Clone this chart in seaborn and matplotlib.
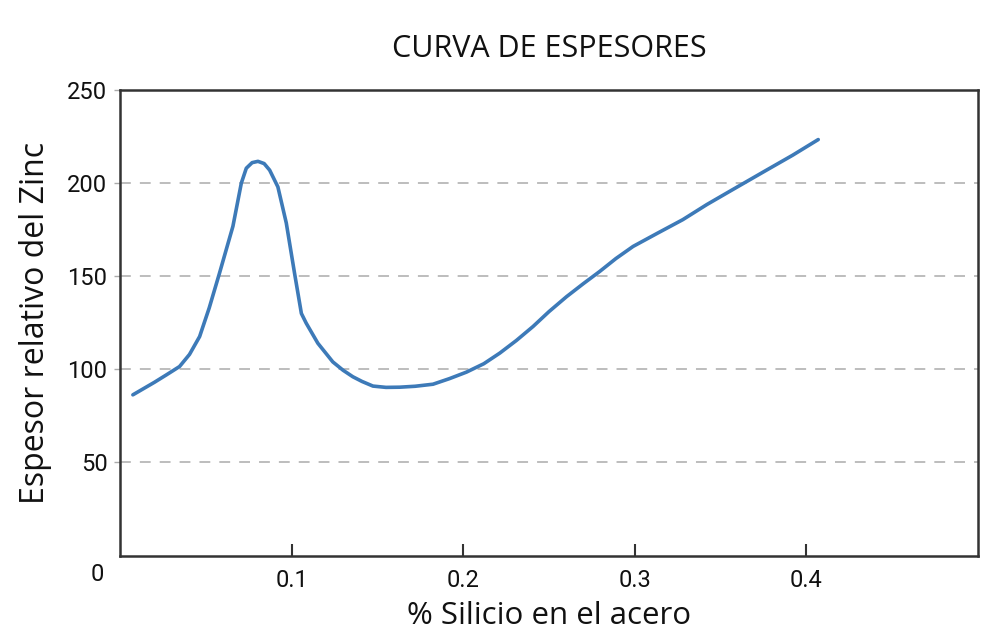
import matplotlib
matplotlib.use("Agg")
import matplotlib.pyplot as plt
import seaborn as sns
import pandas as pd

silicio = [0.0075, 0.020, 0.027, 0.0347, 0.0405, 0.0464, 0.052, 0.058, 0.0658, 0.0707, 0.0736,
           0.0770, 0.0804, 0.0840, 0.0872, 0.092, 0.0969, 0.1017, 0.1057, 0.1085,
           0.1153, 0.124, 0.130, 0.1357, 0.141, 0.1474, 0.155, 0.163, 0.172, 0.1824, 0.192,
           0.2019, 0.212, 0.2213, 0.231, 0.2407, 0.250, 0.2602, 0.270, 0.2796, 0.289,
           0.299, 0.313, 0.328, 0.342, 0.357, 0.3768, 0.392, 0.4069]
espesor = [86.3, 93.0, 97.0, 101.5, 108.0, 117.6, 133.0, 151.7, 176.8, 200.0, 208.0,
           211.0, 211.7, 210.5, 207.0, 198.0, 178.6, 151.7, 130.0, 124.8,
           114.0, 104.0, 99.5, 96.0, 93.5, 91.0, 90.3, 90.4, 90.9, 92.0, 95.0,
           98.5, 103.0, 108.7, 115.5, 123.0, 131.0, 139.0, 146.0, 152.6, 159.5,
           166.0, 173.0, 180.4, 188.5, 196.5, 207.0, 215.0, 223.4]
x_ticks = [0.1, 0.2, 0.3, 0.4]
x_tick_labels = ["0.1", "0.2", "0.3", "0.4"]
y_ticks = [50, 100, 150, 200, 250]
y_tick_labels = ["50", "100", "150", "200", "250"]

df = pd.DataFrame({"silicio": silicio, "espesor": espesor})

sns.set_theme(style="white")
plt.rcParams["font.family"] = ["Open Sans", "DejaVu Sans"]

fig = plt.figure(figsize=(10, 6.44), dpi=100)
ax = fig.add_axes([0.12, 0.1374, 0.858, 0.7228])

for y in [50, 100, 150, 200]:
    ax.axhline(y, color="#b8b8b8", lw=1.3, ls=(0, (6, 5)), zorder=0)

sns.lineplot(data=df, x="silicio", y="espesor", ax=ax, color="#3d7ab8",
             lw=2.6, sort=False, estimator=None)

ax.set_xlim(0, 0.5)
ax.set_ylim(0, 250)
ax.set_xticks(x_ticks)
ax.set_xticklabels(x_tick_labels)
ax.set_yticks(y_ticks)
ax.set_yticklabels(y_tick_labels)

cond = ["Roboto", "DejaVu Sans"]
for lab in ax.get_xticklabels() + ax.get_yticklabels():
    lab.set_family(cond)
    lab.set_fontsize(17)
    lab.set_color("#111111")
ax.tick_params(axis="x", direction="in", length=9, width=1.5, color="#333333",
               pad=10, bottom=True)
ax.tick_params(axis="y", direction="out", length=4, width=1.0, color="#aaaaaa",
               pad=5, left=True)
ax.text(-0.0135, -4, "0", ha="center", va="top",
        fontsize=17, family=cond, color="#111111")

for sp in ax.spines.values():
    sp.set_color("#333333")
    sp.set_linewidth(1.8)

ax.set_xlabel("% Silicio en el acero", fontsize=22.5, color="#111111", labelpad=6)
ax.set_ylabel("Espesor relativo del Zinc", fontsize=23, color="#111111", labelpad=11)
ax.set_title("CURVA DE ESPESORES", fontsize=22, color="#111111", pad=24)
ax.grid(False)

fig.savefig("out.png", dpi=100)
